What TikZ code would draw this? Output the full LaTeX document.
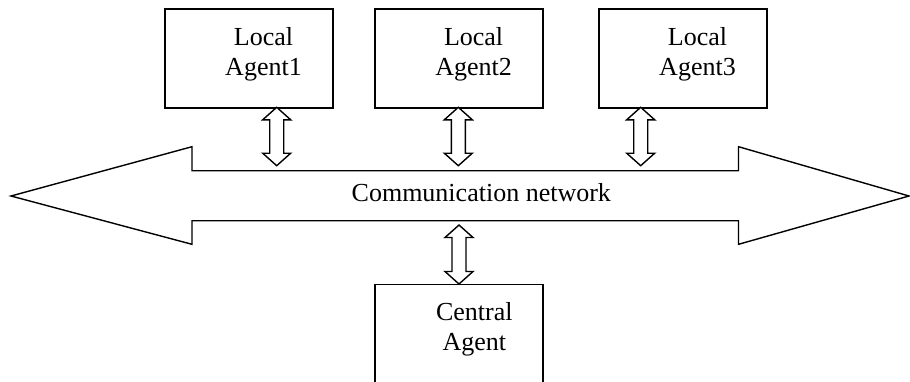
\documentclass[tikz,border=0pt]{standalone}
\usepackage{fontspec}
\setmainfont{Liberation Serif}
\usetikzlibrary{calc}
\tikzset{
  x=1pt, y=-1pt,
  outline/.style={draw=black, line width=1.4pt, line join=miter, fill=white},
  agentbox/.style={draw=black, line width=1.4pt, rectangle, inner sep=0pt, anchor=north west,
    minimum width=168pt, minimum height=99pt},
  lbl/.style={font=\fontsize{26}{30}\selectfont, align=center, inner sep=0pt},
}
\newcommand{\hollowdbl}[2]{%
  \draw[outline] (#1) -- ($(#1)+(14,12.5)$) -- ($(#1)+(7,12.5)$) -- ($(#2)+(7,-12.5)$)
    -- ($(#2)+(14,-12.5)$) -- (#2) -- ($(#2)+(-14,-12.5)$) -- ($(#2)+(-7,-12.5)$)
    -- ($(#1)+(-7,12.5)$) -- ($(#1)+(-14,12.5)$) -- cycle;}
\begin{document}
\begin{tikzpicture}
\useasboundingbox (0,0) rectangle (910,381);
\clip (0,0) rectangle (910,381);
% communication network (big double arrow)
\draw[outline] (11,196) -- (192,146.7) -- (192,170.7) -- (738.5,170.7) -- (738.5,146.7)
  -- (909,196) -- (738.5,244.3) -- (738.5,220.7) -- (192,220.7) -- (192,244.3) -- cycle;
\node[lbl, anchor=base] (net) at (481.3,201.7) {Communication network};
% agent boxes
\node[agentbox] (b1) at (164.3,8.3) {};
\node[agentbox] (b2) at (374.3,8.3) {};
\node[agentbox] (b3) at (598.3,8.3) {};
\node[agentbox, minimum height=130pt] (bc) at (374.3,284) {};
\node[lbl] (l1) at (263.5,54.2) {Local\\Agent1};
\node[lbl] (l2) at (473.6,54.2) {Local\\Agent2};
\node[lbl] (l3) at (697.5,54.2) {Local\\Agent3};
\node[lbl] (lc) at (474.3,329.6) {Central\\Agent};
% connector end points
\coordinate (t1) at (276.7,107.3); \coordinate (e1) at (276.7,165.7);
\coordinate (t2) at (458.3,107.3); \coordinate (e2) at (458.3,165.7);
\coordinate (t3) at (640.7,107.3); \coordinate (e3) at (640.7,165.7);
\coordinate (tc) at (459,225);     \coordinate (ec) at (459,284);
\hollowdbl{t1}{e1}
\hollowdbl{t2}{e2}
\hollowdbl{t3}{e3}
\hollowdbl{tc}{ec}
\end{tikzpicture}
\end{document}
